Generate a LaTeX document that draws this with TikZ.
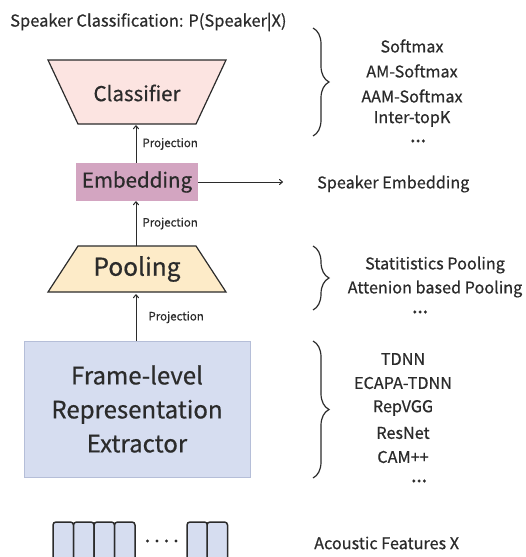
\documentclass[tikz,border=0pt]{standalone}
\usepackage{fontspec}
\setmainfont{Noto Sans CJK SC}[FakeBold=0.6]
\usetikzlibrary{decorations.pathreplacing,arrows.meta}
\definecolor{txt}{HTML}{2B2B2B}
\definecolor{clsfill}{HTML}{FCE4E1}
\definecolor{embfill}{HTML}{D3A5C1}
\definecolor{poolfill}{HTML}{FDEBC8}
\definecolor{framefill}{HTML}{D6DDF0}
\definecolor{frameline}{HTML}{B5BED8}
\tikzset{
  shapeline/.style={draw=txt, line width=1.2pt},
  box/.style={inner sep=0pt, text=txt},
  proj/.style={draw=txt, line width=1pt, -{To[length=4pt,width=6pt]}},
  projlabel/.style={anchor=west, font=\fontsize{11.5}{13}\selectfont, text=txt, inner sep=0pt},
  sidetext/.style={font=\fontsize{16.2}{19}\selectfont, text=txt, inner sep=0pt},
  dotstext/.style={font=\bfseries\fontsize{14}{16}\selectfont, text=txt, inner sep=0pt},
  bracestyle/.style={draw=txt, line width=1.2pt, decorate, decoration={brace, amplitude=16pt}},
  barstyle/.style={draw=txt, line width=1.5pt, fill=framefill, rounded corners=3pt},
}
\begin{document}
\begin{tikzpicture}[x=1pt,y=-1pt]
\useasboundingbox (0,0) rectangle (525,557);
\clip (0,0) rectangle (525,557);
% title
\node[sidetext, anchor=west, font=\fontsize{16.5}{19}\selectfont] (title) at (10,22) {Speaker Classification: P(Speaker|X)};
% classifier
\fill[clsfill] (48,60) -- (226,60) -- (196,124) -- (78,124) -- cycle;
\draw[shapeline] (48,60) -- (226,60) -- (196,124) -- (78,124) -- cycle;
\node[box, minimum width=178pt, minimum height=64pt, font=\fontsize{20.5}{24}\selectfont] (cls) at (137,93) {Classifier};
% embedding
\node[box, fill=embfill, minimum width=122pt, minimum height=38pt, font=\fontsize{20.5}{24}\selectfont] (emb) at (137,182) {Embedding};
% pooling
\fill[poolfill] (78,246) -- (196,246) -- (226,292) -- (48,292) -- cycle;
\draw[shapeline] (78,246) -- (196,246) -- (226,292) -- (48,292) -- cycle;
\node[box, minimum width=178pt, minimum height=46pt, font=\fontsize{24.5}{28}\selectfont] (pool) at (137,269) {Pooling};
% frame-level
\node[box, draw=frameline, line width=1pt, fill=framefill, minimum width=226pt, minimum height=136pt, align=center, font=\fontsize{24}{34}\selectfont] (frame) at (137,409) {Frame-level\\Representation\\Extractor};
% arrows
\draw[proj] (emb.north -| 136,0) -- (cls.south -| 136,0) node[midway, projlabel, xshift=6pt] (p1) {Projection};
\draw[proj] (pool.north -| 136,0) -- (emb.south -| 136,0) node[midway, projlabel, xshift=6pt] (p2) {Projection};
\draw[proj] (frame.north -| 136,0) -- ([yshift=-2pt]pool.south -| 136,0) node[midway, projlabel, xshift=12pt] (p3) {Projection};
\coordinate (embout) at (283,182);
\draw[proj] (emb.east) -- (embout);
\node[sidetext, anchor=west] (spkemb) at (317,184) {Speaker Embedding};
% braces
\draw[bracestyle] (313,28) -- (313,136);
\draw[bracestyle] (313,246) -- (313,310);
\draw[bracestyle] (313,341) -- (313,478);
% classifier list
\node[sidetext] (c1) at (412,46) {Softmax};
\node[sidetext] (c2) at (412,71) {AM-Softmax};
\node[sidetext] (c3) at (412,96) {AAM-Softmax};
\node[sidetext] (c4) at (412,119) {Inter-topK};
\node[dotstext] (c5) at (418,141) {…};
% pooling list
\node[sidetext] (q1) at (435,265) {Statitistics Pooling};
\node[sidetext] (q2) at (435,289) {Attenion based Pooling};
\node[dotstext] (q3) at (420,312) {…};
% frame list
\node[sidetext] (f1) at (403,359) {TDNN};
\node[sidetext] (f2) at (403,383) {ECAPA-TDNN};
\node[sidetext] (f3) at (403,408) {RepVGG};
\node[sidetext] (f4) at (403,433) {ResNet};
\node[sidetext] (f5) at (403,457) {CAM++};
\node[dotstext] (f6) at (419,481) {…};
% acoustic features
\foreach \x in {53,73.5,94,114.5,187,207}{
  \draw[barstyle] (\x,570) -- (\x,522) -- (\x+20.5,522) -- (\x+20.5,570);
}
\foreach \x in {147.5,157,166.5,176}{
  \fill[txt] (\x,541) circle (1.6pt);
}
\node[sidetext, anchor=west] (acoustic) at (314,543) {Acoustic Features X};
\end{tikzpicture}
\end{document}
